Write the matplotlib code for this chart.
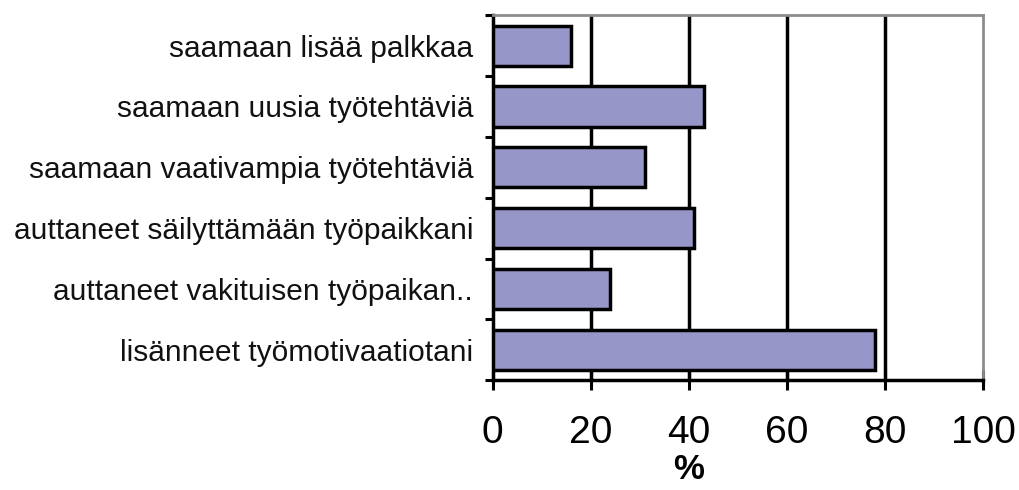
import matplotlib
matplotlib.use("Agg")
import matplotlib.pyplot as plt
import numpy as np

categories = ["saamaan lisää palkkaa", "saamaan uusia työtehtäviä",
              "saamaan vaativampia työtehtäviä", "auttaneet säilyttämään työpaikkani",
              "auttaneet vakituisen työpaikan..", "lisänneet työmotivaatiotani"]
values = [16, 43, 31, 41, 24, 78]
xticks = [0, 20, 40, 60, 80, 100]
xlabel = "%"

plt.rcParams['font.family'] = ['Liberation Sans', 'DejaVu Sans']

fig = plt.figure(figsize=(10.2, 4.9), dpi=100)
ax = fig.add_axes([0.483, 0.224, 0.481, 0.745])

n = len(categories)
y = np.arange(n)
ax.barh(y, values, height=0.66, color="#9696C8", edgecolor="black", linewidth=2.5, zorder=3)
ax.set_xlim(0, 100)
ax.set_ylim(n - 0.5, -0.5)

ax.set_xticks(xticks)
ax.set_xticklabels([str(v) for v in xticks], fontsize=28)
ax.tick_params(axis='x', direction='inout', length=14, width=2.2, pad=18, colors='black')

ax.set_yticks(y)
ax.set_yticklabels(categories, fontsize=21.5, color="#111111")
ax.tick_params(axis='y', which='major', length=0, pad=14)
ax.set_yticks(np.arange(-0.5, n, 1.0), minor=True)
ax.tick_params(axis='y', which='minor', direction='out', length=6, width=2.2, color='black')

for v in xticks[1:-1]:
    ax.axvline(v, color='black', linewidth=2.5, zorder=1)

ax.spines['left'].set_linewidth(2.5)
ax.spines['bottom'].set_linewidth(2.5)
ax.spines['top'].set_color('#8c8c8c')
ax.spines['top'].set_linewidth(2)
ax.spines['right'].set_color('#8c8c8c')
ax.spines['right'].set_linewidth(2)

ax.set_xlabel(xlabel, fontsize=25, fontweight='bold', labelpad=0)
ax.xaxis.set_label_coords(0.40, -0.2)

fig.savefig("out.png", dpi=100)
